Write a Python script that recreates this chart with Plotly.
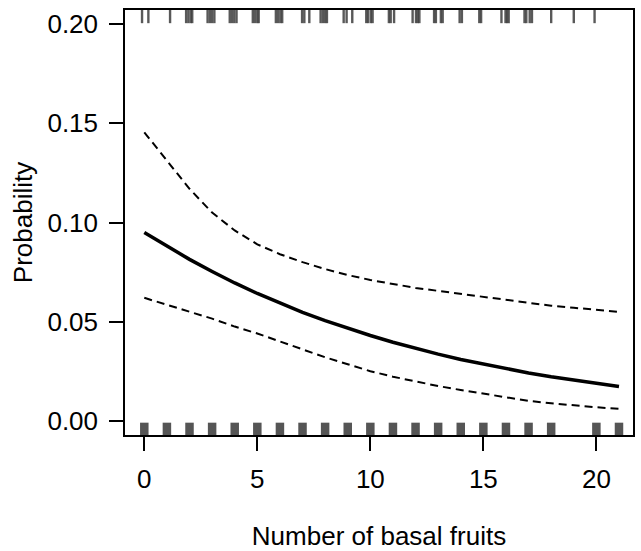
import plotly.graph_objects as go

# Fitted curve and confidence band
x_vals = list(range(0, 22))
prob_mean = [0.0950, 0.0880, 0.0814, 0.0753, 0.0695, 0.0642, 0.0593, 0.0547,
             0.0505, 0.0466, 0.0430, 0.0396, 0.0365, 0.0336, 0.0309, 0.0285,
             0.0262, 0.0241, 0.0222, 0.0205, 0.0188, 0.0173]
prob_upper = [0.1455, 0.1310, 0.1170, 0.1050, 0.0960, 0.0890, 0.0840, 0.0800,
              0.0765, 0.0735, 0.0710, 0.0690, 0.0670, 0.0655, 0.0640, 0.0625,
              0.0610, 0.0595, 0.0580, 0.0570, 0.0560, 0.0549]
prob_lower = [0.0620, 0.0585, 0.0550, 0.0515, 0.0475, 0.0440, 0.0400, 0.0360,
              0.0320, 0.0285, 0.0250, 0.0222, 0.0197, 0.0175, 0.0155, 0.0136,
              0.0118, 0.0100, 0.0088, 0.0077, 0.0068, 0.0060]

# Rug of observations (jittered), response = 1 (top) and response = 0 (bottom)
rug_top = [-0.10, 0.18, 1.14,
           1.85, 1.95, 2.05, 2.12,
           2.80, 2.90, 3.00, 3.10,
           3.78, 3.88, 3.98, 4.08,
           4.80, 4.90, 5.00, 5.06,
           5.82, 5.92, 6.02, 6.10,
           6.98, 7.08, 7.30,
           7.80, 7.90, 8.00, 8.08,
           8.82, 8.95, 9.20,
           9.82, 9.90, 10.02, 10.10,
           10.82, 10.90, 11.05,
           11.87, 12.02, 12.10, 12.17,
           12.82, 12.90, 13.12, 13.20,
           13.95, 14.05,
           14.82, 14.90,
           15.80, 15.98, 16.05, 16.12,
           16.82, 16.90, 17.05, 17.15,
           18.00, 19.00, 19.92]
rug_bottom = [0, 1, 2, 3, 4, 5, 6, 7, 8, 9, 10, 11, 12, 13, 14, 15, 16, 17, 18, 20, 21]

x_ticks = [0, 5, 10, 15, 20]
y_ticks = [0.00, 0.05, 0.10, 0.15, 0.20]

fig = go.Figure()
fig.add_trace(go.Scatter(x=x_vals, y=prob_upper, mode="lines",
                         line=dict(color="black", width=2, dash="8px,5px"),
                         showlegend=False))
fig.add_trace(go.Scatter(x=x_vals, y=prob_lower, mode="lines",
                         line=dict(color="black", width=2, dash="8px,5px"),
                         showlegend=False))
fig.add_trace(go.Scatter(x=x_vals, y=prob_mean, mode="lines",
                         line=dict(color="black", width=3.5),
                         showlegend=False))

shapes = []
for v in rug_top:
    shapes.append(dict(type="line", xref="x", yref="paper", x0=v, x1=v,
                       y0=1.0, y1=0.969,
                       line=dict(color="rgba(60,60,60,0.85)", width=2.4)))
for v in rug_bottom:
    shapes.append(dict(type="line", xref="x", yref="paper", x0=v, x1=v,
                       y0=0.0, y1=0.029,
                       line=dict(color="#555555", width=8.5)))
fig.update_layout(shapes=shapes)

font_main = dict(family="Liberation Sans, Arial, sans-serif", size=26, color="black")

fig.update_layout(
    width=641, height=551,
    margin=dict(l=125, r=8, t=10, b=116),
    paper_bgcolor="white", plot_bgcolor="white",
    font=font_main,
    xaxis=dict(range=[-0.854, 21.62], tickvals=x_ticks, ticks="outside",
               ticklen=14, tickwidth=1.5, tickcolor="black",
               showline=True, linecolor="black", linewidth=1.5, mirror=True,
               showgrid=False, zeroline=False, ticklabelstandoff=6,
               automargin=False,
               title=dict(text="Number of basal fruits", standoff=34, font=font_main)),
    yaxis=dict(range=[-0.0072, 0.2072], tickvals=y_ticks, tickformat=".2f",
               ticks="outside", ticklen=14, tickwidth=1.5, tickcolor="black",
               showline=True, linecolor="black", linewidth=1.5, mirror=True,
               showgrid=False, zeroline=False, ticklabelstandoff=6,
               automargin=False,
               title=dict(text="Probability", standoff=7, font=font_main)),
)

fig.write_html("out.html",
               config={"displayModeBar": False},
               post_script="document.body.style.margin='0';document.body.style.overflow='hidden';")
